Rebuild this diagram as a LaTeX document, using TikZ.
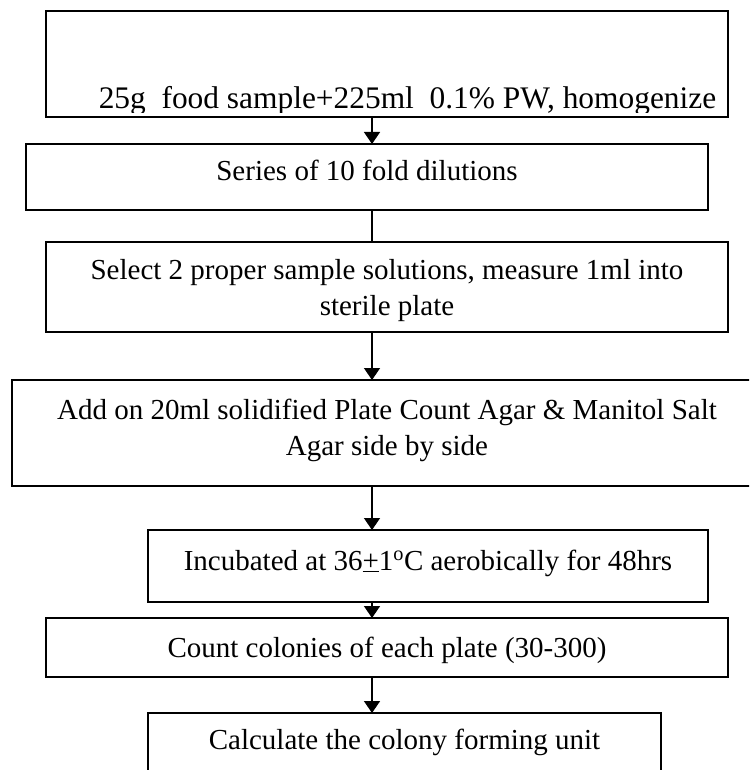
\documentclass[tikz,border=0pt]{standalone}
\usepackage{fontspec}
\setmainfont{Liberation Serif}
\usetikzlibrary{arrows.meta}
\begin{document}
\begin{tikzpicture}[x=1pt,y=-1pt,
  box/.style={draw=black, line width=1.6pt, rectangle, inner sep=0pt, outer sep=0pt},
  txt/.style={font=\fontsize{29}{36}\selectfont, inner sep=0pt, align=center, anchor=base},
  arr/.style={line width=1.5pt, -{Triangle[width=16pt,length=12pt]}},
  ln/.style={line width=1.5pt}]
\clip (0,0) rectangle (749,770);
\fill[white] (0,0) rectangle (749,770);
% boxes
\node[box, minimum width=682pt, minimum height=106pt] (b1) at (387,64) {};
\node[box, minimum width=682pt, minimum height=66pt] (b2) at (367,177) {};
\node[box, minimum width=682pt, minimum height=90pt] (b3) at (387,287) {};
\node[box, minimum width=750pt, minimum height=106pt] (b4) at (387,433) {};
\node[box, minimum width=560pt, minimum height=72pt] (b5) at (428,566) {};
\node[box, minimum width=682pt, minimum height=59pt] (b6) at (387,647.5) {};
\node[box, minimum width=513pt, minimum height=87pt] (b7) at (404.5,756.5) {};
% texts
\begin{scope}
\clip ([yshift=4pt]b1.south west) rectangle (b1.north east);
\node[txt, font=\fontsize{31.4}{36}\selectfont] (t1) at (407.5,109) {25g\ \ food sample+225ml\ \ 0.1\% PW, homogenize};
\end{scope}
\node[txt] (t2) at (367,181) {Series of 10 fold dilutions};
\node[txt] (t3) at (387,315) {Select 2 proper sample solutions, measure 1ml into\\sterile plate};
\node[txt] (t4) at (387,455) {Add on 20ml solidified Plate Count Agar \& Manitol Salt\\Agar side by side};
\node[txt] (t5) at (428,570) {Incubated at 36\underline{+}1\textsuperscript{o}C aerobically for 48hrs};
\node[txt] (t6) at (387,657) {Count colonies of each plate (30-300)};
\node[txt] (t7) at (404.5,749) {Calculate the colony forming unit};
% connectors
\coordinate (ax) at (372,0);
\draw[arr] (b1.south -| ax) -- (b2.north -| ax);
\draw[ln] (b2.south -| ax) -- (b3.north -| ax);
\draw[arr] (b3.south -| ax) -- (b4.north -| ax);
\draw[arr] (b4.south -| ax) -- (b5.north -| ax);
\draw[arr] (b5.south -| ax) -- (b6.north -| ax);
\draw[arr] (b6.south -| ax) -- (b7.north -| ax);
\end{tikzpicture}
\end{document}
